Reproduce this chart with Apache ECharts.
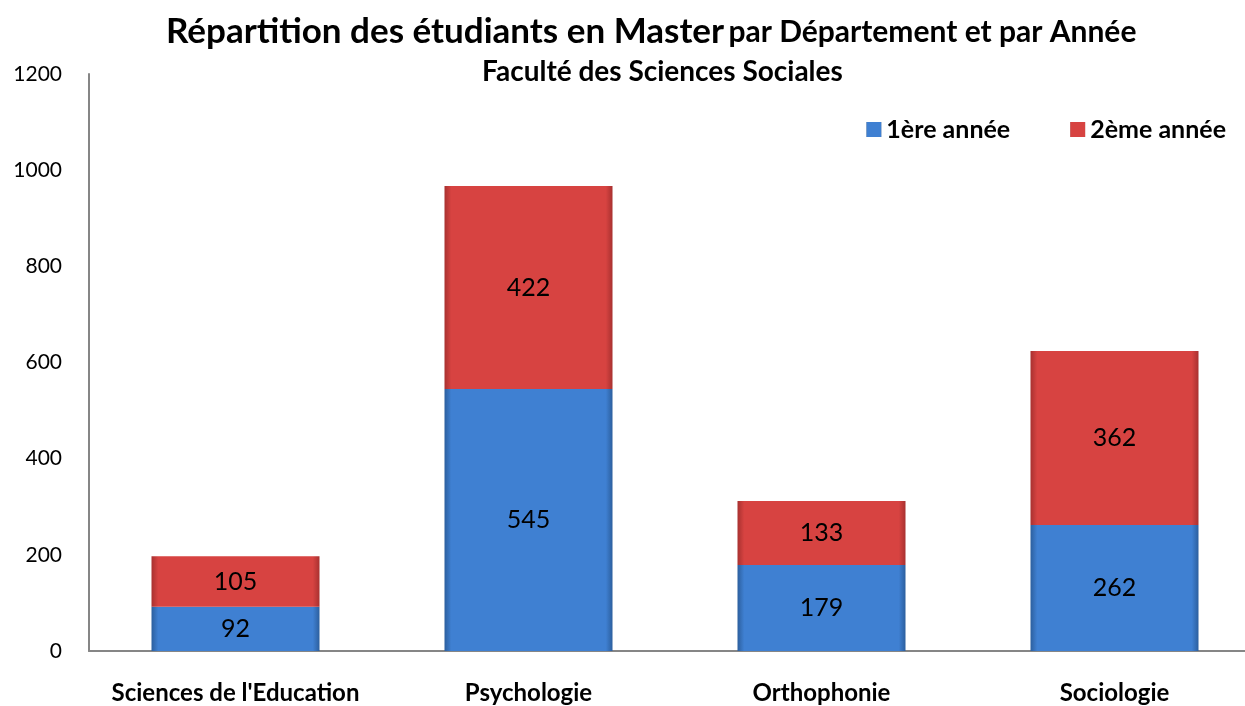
<!DOCTYPE html>
<html><head><meta charset="utf-8">
<script src="https://cdn.jsdelivr.net/npm/echarts@6/dist/echarts.min.js"></script>
<style>html,body{margin:0;padding:0;background:#fff}#c{width:1245px;height:706px}</style>
</head><body><div id="c"></div>
<script>
const categories = ["Sciences de l'Education", "Psychologie", "Orthophonie", "Sociologie"];
const annee1 = [92, 545, 179, 262];
const annee2 = [105, 422, 133, 362];
const seriesNames = ["1ère année", "2ème année"];
const yTicks = {min: 0, max: 1200, interval: 200};

const FONT = 'Lato';
function grad(c1, c2){
  return new echarts.graphic.LinearGradient(0,0,1,0,[
    {offset:0,color:c2},{offset:0.04,color:c1},{offset:0.96,color:c1},{offset:1,color:c2}]);
}
const chart = echarts.init(document.getElementById('c'));
chart.setOption({
  animation:false,
  textStyle:{fontFamily:FONT},
  title:[{
    left:161, top:7,
    text:'{a|Répartition des étudiants en Master} {b|par Département et par Année}',
    textStyle:{
      rich:{
        a:{fontFamily:FONT,fontSize:35,fontWeight:'bold',color:'#000',lineHeight:40},
        b:{fontFamily:FONT,fontSize:30,fontWeight:'bold',color:'#000',lineHeight:40}
      }
    }
  },{
    left:477, top:49,
    text:'Faculté des Sciences Sociales',
    textStyle:{fontFamily:FONT,fontSize:28,fontWeight:'bold',color:'#000',lineHeight:36}
  }],
  legend:{
    right:14, top:112, itemGap:60, itemWidth:15, itemHeight:15,
    icon:'rect',
    textStyle:{fontFamily:FONT,fontSize:25,fontWeight:'bold',color:'#000'},
    data:seriesNames
  },
  grid:{left:89, right:-16, top:74, bottom:55, outerBoundsMode:'none', containLabel:false},
  xAxis:{
    type:'category', data:categories,
    axisLine:{lineStyle:{color:'#868686',width:2}},
    axisTick:{show:false},
    axisLabel:{interval:0,fontFamily:FONT,fontSize:24,fontWeight:'bold',color:'#000',margin:30}
  },
  yAxis:{
    type:'value', min:yTicks.min, max:yTicks.max, interval:yTicks.interval,
    axisLine:{show:true,lineStyle:{color:'#868686',width:2}},
    axisTick:{show:false},
    splitLine:{show:false},
    axisLabel:{fontFamily:FONT,fontSize:21,color:'#000',margin:27,formatter:function(v){return String(v);}}
  },
  series:[
    {name:seriesNames[0], type:'bar', stack:'t', data:annee1, barWidth:168,
     itemStyle:{color:grad('#3f80d2','#2c5f9e')},
     label:{show:true,position:'inside',fontFamily:FONT,fontSize:25,color:'#000'}},
    {name:seriesNames[1], type:'bar', stack:'t', data:annee2, barWidth:168,
     itemStyle:{color:grad('#d74341','#a83130')},
     label:{show:true,position:'inside',fontFamily:FONT,fontSize:25,color:'#000'}}
  ]
});
</script></body></html>
